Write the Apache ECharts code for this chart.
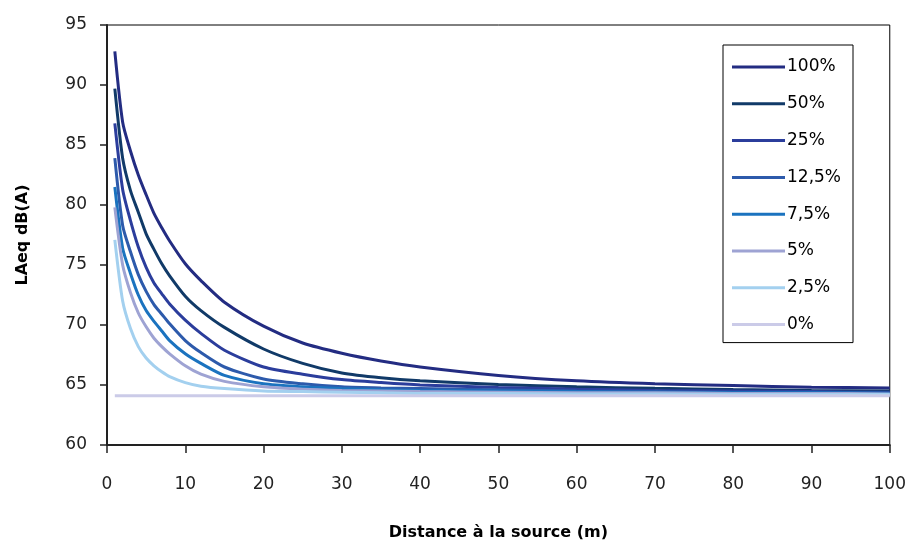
<!DOCTYPE html>
<html>
<head>
<meta charset="utf-8">
<script src="https://cdn.jsdelivr.net/npm/echarts@6/dist/echarts.min.js"></script>
<style>
html,body{margin:0;padding:0;background:#fff;}
#c{width:909px;height:546px;}
</style>
</head>
<body>
<div id="c"></div>
<script>
// Distances (m)
var distances = [1,2,3,4,5,6,7,8,10,12,15,20,25,30,35,40,50,60,70,80,90,100];
// LAeq dB(A) per percentage
var s100  = [92.8,86.9,84.5,82.5,80.85,79.3,78.1,77.0,75.1,73.7,71.9,69.9,68.5,67.65,67.0,66.5,65.8,65.35,65.1,64.95,64.82,64.75];
var s50   = [89.7,83.9,81.2,79.4,77.6,76.3,75.1,74.1,72.4,71.2,69.8,68.0,66.8,66.0,65.6,65.35,65.05,64.85,64.72,64.62,64.55,64.5];
var s25   = [86.8,81.3,78.7,76.5,74.8,73.5,72.6,71.75,70.4,69.3,67.9,66.5,65.9,65.45,65.2,65.0,64.8,64.65,64.55,64.5,64.45,64.4];
var s12_5 = [83.9,78.3,76.1,74.2,72.8,71.7,70.9,70.1,68.7,67.7,66.5,65.5,65.1,64.85,64.75,64.7,64.6,64.5,64.45,64.4,64.4,64.35];
var s7_5  = [81.5,76.4,74.3,72.5,71.2,70.3,69.5,68.7,67.6,66.8,65.8,65.1,64.85,64.7,64.6,64.55,64.5,64.45,64.4,64.35,64.35,64.3];
var s5    = [79.8,75.0,72.7,71.0,69.85,68.9,68.2,67.6,66.6,65.9,65.3,64.85,64.65,64.55,64.5,64.45,64.4,64.35,64.35,64.3,64.3,64.25];
var s2_5  = [77.1,72.0,69.7,68.2,67.25,66.6,66.1,65.7,65.2,64.9,64.7,64.5,64.45,64.4,64.35,64.3,64.3,64.25,64.25,64.2,64.2,64.2];
var s0    = [64.1,64.1,64.1,64.1,64.1,64.1,64.1,64.1,64.1,64.1,64.1,64.1,64.1,64.1,64.1,64.1,64.1,64.1,64.1,64.1,64.1,64.1];

var seriesNames = ['100%','50%','25%','12,5%','7,5%','5%','2,5%','0%'];
var seriesValues = [s100,s50,s25,s12_5,s7_5,s5,s2_5,s0];
var seriesColors = ['#232c82','#113a68','#2b3d9c','#2d5aab','#1b73bf','#9ea3d3','#a3d0ef','#cbcbe8'];

var xTicks = {min:0, max:100, interval:10};
var yTicks = {min:60, max:95, interval:5};

function pairs(vals){
  return distances.map(function(d,i){ return [d, vals[i]]; });
}

var series = seriesNames.map(function(n,i){
  return {
    name:n, type:'line', data:pairs(seriesValues[i]),
    symbol:'none', smooth:0.25, animation:false,
    lineStyle:{color:seriesColors[i], width:3},
    itemStyle:{color:seriesColors[i]},
    z: 2
  };
});

var chart = echarts.init(document.getElementById('c'), null, {renderer:'canvas'});
chart.setOption({
  backgroundColor:'#ffffff',
  animation:false,
  grid:{left:107, right:19, top:25, bottom:101, show:true, borderColor:'#000', borderWidth:1, backgroundColor:'transparent'},
  legend:{
    orient:'vertical', left:723, top:45,
    borderColor:'#000', borderWidth:1, backgroundColor:'#fff',
    padding:[12,12,8,9],
    itemWidth:53, itemHeight:3, itemGap:16.8, icon:'rect',
    textStyle:{fontFamily:'DejaVu Sans', fontSize:17, color:'#000', padding:[0,0,0,-3], lineHeight:20},
    data:seriesNames
  },
  xAxis:{
    type:'value', min:xTicks.min, max:xTicks.max, interval:xTicks.interval,
    name:'Distance à la source (m)', nameLocation:'middle', nameGap:80,
    nameTextStyle:{fontFamily:'DejaVu Sans', fontWeight:'bold', fontSize:16, color:'#000'},
    axisLine:{show:true, onZero:false, lineStyle:{color:'#222', width:2}},
    axisTick:{show:true, length:8, lineStyle:{color:'#222', width:1.5}},
    axisLabel:{margin:31, fontFamily:'DejaVu Sans', fontSize:17, color:'#222'},
    splitLine:{show:false}
  },
  yAxis:{
    type:'value', min:yTicks.min, max:yTicks.max, interval:yTicks.interval,
    name:'LAeq dB(A)', nameLocation:'middle', nameGap:76, nameRotate:90,
    nameTextStyle:{fontFamily:'DejaVu Sans', fontWeight:'bold', fontSize:16, color:'#000'},
    axisLine:{show:true, onZero:false, lineStyle:{color:'#222', width:2}},
    axisTick:{show:true, length:7, lineStyle:{color:'#222', width:1.5}},
    axisLabel:{margin:20, fontFamily:'DejaVu Sans', fontSize:17, color:'#222'},
    splitLine:{show:false}
  },
  series:series
});
</script>
</body>
</html>
